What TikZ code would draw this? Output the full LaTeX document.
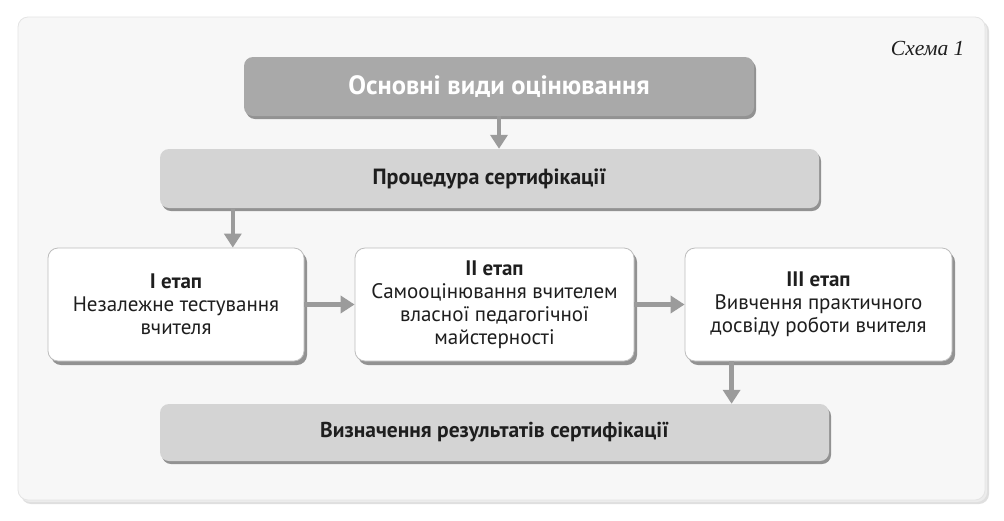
\documentclass[tikz,border=0pt]{standalone}
\usepackage{fontspec}
\setmainfont{PT Sans}
\newfontfamily\schemefont{Liberation Serif}
\usetikzlibrary{arrows.meta,shadows,calc}
\definecolor{panelbg}{HTML}{F7F7F7}
\definecolor{paneledge}{HTML}{E4E4E4}
\definecolor{darkbox}{HTML}{A9A9A9}
\definecolor{lightbox}{HTML}{D4D4D4}
\definecolor{boxedge}{HTML}{BDBDBD}
\definecolor{shadowgray}{HTML}{929292}
\definecolor{arrowgray}{HTML}{9B9B9B}
\definecolor{textgray}{HTML}{1E1E1E}
\tikzset{
  panel/.style={draw=paneledge, fill=panelbg, rounded corners=10pt, line width=0.8pt},
  darkbar/.style={fill=darkbox, rounded corners=9pt, text=white,
    font=\fontsize{26.5}{30}\selectfont\bfseries,
    drop shadow={shadow xshift=2pt, shadow yshift=-3pt, fill=shadowgray, opacity=1}},
  lightbar/.style={fill=lightbox, rounded corners=9pt, text=textgray,
    font=\fontsize{22}{26}\selectfont\bfseries,
    drop shadow={shadow xshift=2pt, shadow yshift=-3pt, fill=shadowgray, opacity=1}},
  stagebox/.style={draw=boxedge, fill=white, rounded corners=10pt, line width=0.8pt,
    align=center, text=textgray, font=\fontsize{21}{23}\selectfont, minimum height=113pt,
    drop shadow={shadow xshift=3pt, shadow yshift=-4pt, fill=shadowgray, opacity=1}},
  flow/.style={draw=arrowgray, line width=4.5pt,
    -{Triangle[width=17pt,length=14pt]}, arrowgray},
}
\begin{document}
\begin{tikzpicture}[x=1pt,y=-1pt]
\useasboundingbox (0,0) rectangle (1004,520);
% panel with soft shadow
\fill[gray!25, rounded corners=10pt] (21,21) rectangle (989,504);
\fill[gray!15, rounded corners=10pt] (20,20) rectangle (987,502);
\path[panel] (18,17) rectangle (985,500);
\node[anchor=east, text=textgray, font=\schemefont\itshape\fontsize{21.5}{25}\selectfont] (scheme) at (968,48) {Схема 1};

\node[darkbar, minimum width=510pt, minimum height=59pt] (top) at (499,86.5) {Основні види оцінювання};
\node[lightbar, minimum width=659pt, minimum height=59pt] (proc) at (489.5,178.5) {Процедура сертифікації};

\node[stagebox, minimum width=256pt] (s1) at (176,304.5) {{\bfseries I етап}\\Незалежне тестування\\вчителя};
\node[stagebox, minimum width=279pt] (s2) at (494.5,304.5) {{\bfseries II етап}\\Самооцінювання вчителем\\власної педагогічної\\майстерності};
\node[stagebox, minimum width=267pt] (s3) at (818.5,304.5) {{\bfseries III етап}\\Вивчення практичного\\досвіду роботи вчителя};

\node[lightbar, font=\fontsize{21.5}{26}\selectfont\bfseries, minimum width=669pt, minimum height=57pt] (res) at (494.5,432.5) {Визначення результатів сертифікації};

\coordinate (a1) at (top.south);
\coordinate (a2) at ($(proc.south west)+(73,0)$);
\coordinate (a3) at ($(s3.south west)+(47,0)$);

\draw[flow] (a1) -- (a1 |- proc.north);
\draw[flow] (a2) -- (a2 |- s1.north);
\draw[flow] (s1.east) -- (s2.west);
\draw[flow] (s2.east) -- (s3.west);
\draw[flow] (a3) -- (a3 |- res.north);
\end{tikzpicture}
\end{document}
